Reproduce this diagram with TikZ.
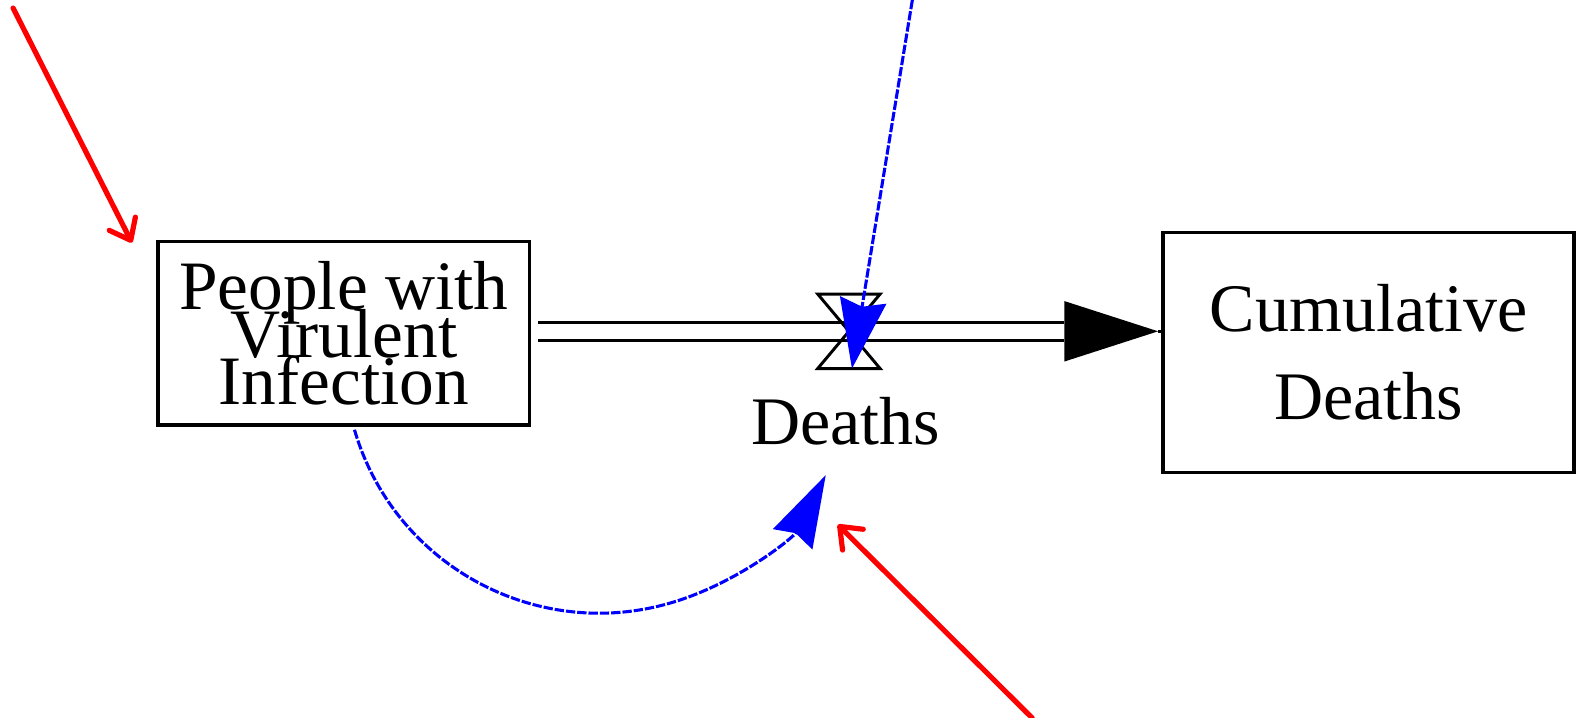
\documentclass[tikz,border=0pt]{standalone}
\usepackage{fontspec}
\setmainfont{Liberation Serif}
\usetikzlibrary{arrows.meta,calc}
\begin{document}
\lineskiplimit=-200pt\relax
\begin{tikzpicture}[x=0.7553pt, y=-0.7553pt,
  stockbox/.style={draw, line width=2.6pt, inner sep=0pt, align=center},
  infolink/.style={blue, line width=2.3pt, dash pattern=on 7pt off 1.5pt},
  redarrow/.style={red, line width=3.9pt, line cap=round, -{Straight Barb[length=14pt,width=22pt,round]}},
  pipeline/.style={line width=2.6pt}
]
\useasboundingbox (0,0) rectangle (1568,713);

% stocks
\node[stockbox, font=\fontsize{52}{35.8}\selectfont, minimum width=278.7pt, minimum height=137.5pt] (p1) at (341.5,331)
  {People with\\Virulent\\Infection};
\node[stockbox, font=\fontsize{51}{66}\selectfont, minimum width=308.2pt, minimum height=179.8pt] (cd) at (1359,350)
  {Cumulative\\Deaths};

% flow label
\node[font=\fontsize{51}{60}\selectfont, inner sep=0pt] (dl) at (840,418) {Deaths};

% pipe
\coordinate (v) at (843,329);
\coordinate (ab) at (1057,329);
\coordinate (at) at (1150,329);
\draw[pipeline, double distance=11pt] ($(p1.east)+(7,-2)$) -- (ab);
\fill (ab) ++(0,-30) -- (at) -- ($(ab)+(0,30)$) -- cycle;
\draw[line width=2.2pt] (at) -- (at -| cd.west);

% valve
\draw[line width=2.2pt, line join=miter]
  ($(v)+(-31,-37)$) -- ($(v)+(31,-37)$) -- (v) -- ($(v)+(31,37)$) -- ($(v)+(-31,37)$) -- (v) -- cycle;

% info link from top
\coordinate (top) at (906,0);
\coordinate (vt) at (846,366);
\draw[infolink, -{Stealth[length=52pt,width=35pt,inset=5pt]}] (top) -- (vt);

% info link curved
\coordinate (cs) at ($(p1.south)+(10.5,3)$);
\draw[infolink, -{Stealth[length=54pt,width=33pt,inset=5pt]}] (cs) arc[start angle=163.7, end angle=27.3, radius=253.2];

% red pointer arrows
\coordinate (r1s) at (13,8);
\coordinate (r1e) at (131,241);
\coordinate (r2s) at (1025,713);
\coordinate (r2e) at (832,521);
\draw[redarrow] (r1s) -- (r1e);
\draw[redarrow] (r2s) -- (r2e);
\end{tikzpicture}
\end{document}
